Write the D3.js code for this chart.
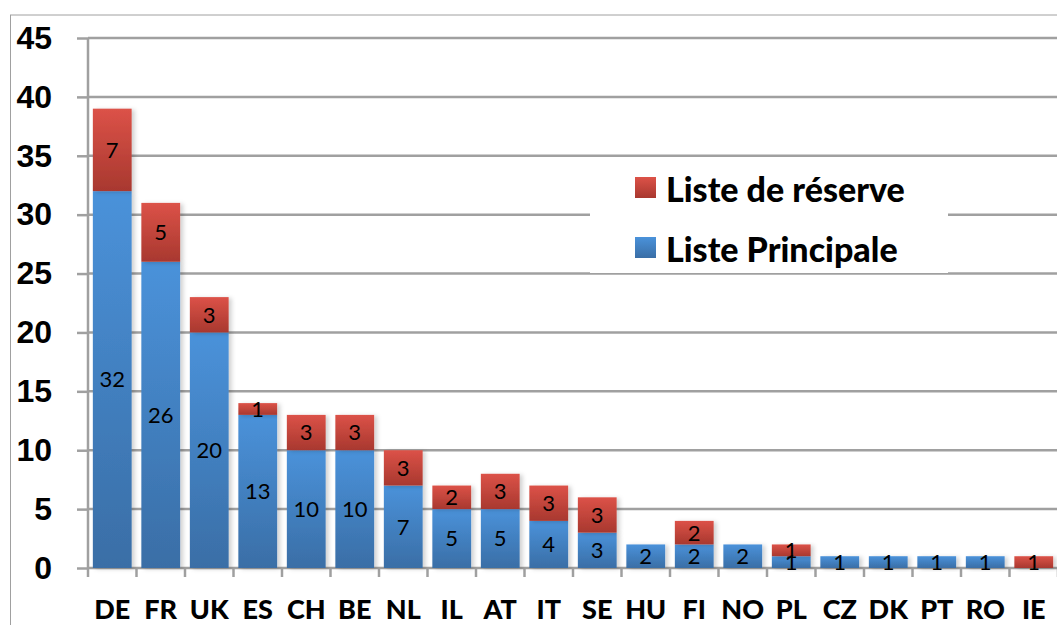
<!DOCTYPE html>
<html>
<head>
<meta charset="utf-8">
<script src="https://cdn.jsdelivr.net/npm/d3@7"></script>
<style>
  body { margin: 0; background: #fff; }
  svg { display: block; font-family: Lato, "Open Sans", sans-serif; }
</style>
</head>
<body>
<div id="chart"></div>
<script>
const countries = ["DE", "FR", "UK", "ES", "CH", "BE", "NL", "IL", "AT", "IT", "SE", "HU", "FI", "NO", "PL", "CZ", "DK", "PT", "RO", "IE"];
const principale = [32, 26, 20, 13, 10, 10, 7, 5, 5, 4, 3, 2, 2, 2, 1, 1, 1, 1, 1, 0];
const reserve = [7, 5, 3, 1, 3, 3, 3, 2, 3, 3, 3, 0, 2, 0, 1, 0, 0, 0, 0, 1];
const yTicks = [0, 5, 10, 15, 20, 25, 30, 35, 40, 45];

const width = 1057, height = 625;
const plotLeft = 88, plotRight = 1058, plotTop = 38, plotBottom = 568;

const svg = d3.select("#chart").append("svg")
    .attr("width", width)
    .attr("height", height);

const defs = svg.append("defs");
function grad(id, c1, c2) {
    const g = defs.append("linearGradient").attr("id", id)
        .attr("x1", 0).attr("y1", 0).attr("x2", 0).attr("y2", 1);
    g.append("stop").attr("offset", "0%").attr("stop-color", c1);
    g.append("stop").attr("offset", "100%").attr("stop-color", c2);
}
grad("gBlue", "#4a92da", "#3a6ea6");
grad("gRed", "#dc5248", "#a8382f");

const shadow = defs.append("filter").attr("id", "shadow")
    .attr("x", "-20%").attr("y", "-20%").attr("width", "150%").attr("height", "150%");
shadow.append("feDropShadow").attr("dx", 3).attr("dy", 1)
    .attr("stdDeviation", 2).attr("flood-color", "#000").attr("flood-opacity", 0.18);

// outer frame
svg.append("line").attr("x1", 10).attr("x2", width).attr("y1", 15).attr("y2", 15)
    .attr("stroke", "#a0a0a0").attr("stroke-width", 1);
svg.append("line").attr("x1", 10.5).attr("x2", 10.5).attr("y1", 15).attr("y2", height)
    .attr("stroke", "#a0a0a0").attr("stroke-width", 1);

const x = d3.scaleBand().domain(countries).range([plotLeft, plotRight]).paddingInner(0.2).paddingOuter(0.1);
const y = d3.scaleLinear().domain([0, 45]).range([plotBottom, plotTop]);

// y ticks
const yAxis = svg.append("g").attr("transform", `translate(${plotLeft},0)`)
    .call(d3.axisLeft(y).tickValues(yTicks).tickSize(11).tickPadding(25)
        .tickFormat(d3.format("d")));
yAxis.select(".domain").remove();
yAxis.selectAll(".tick line").attr("stroke", "#a0a0a0").attr("stroke-width", 2.5);
yAxis.selectAll(".tick text").attr("font-size", 32).attr("font-weight", 900).attr("fill", "#000");

// gridlines
svg.append("g").selectAll("line").data(yTicks).join("line")
    .attr("x1", plotLeft).attr("x2", width)
    .attr("y1", d => y(d)).attr("y2", d => y(d))
    .attr("stroke", "#a0a0a0").attr("stroke-width", 2.5);

// y axis line
svg.append("line").attr("x1", plotLeft).attr("x2", plotLeft).attr("y1", plotTop).attr("y2", plotBottom)
    .attr("stroke", "#a0a0a0").attr("stroke-width", 2.5);

// x ticks at band boundaries
const step = x.step();
svg.append("g").selectAll("line").data(d3.range(countries.length + 1)).join("line")
    .attr("x1", i => plotLeft + i * step).attr("x2", i => plotLeft + i * step)
    .attr("y1", plotBottom).attr("y2", plotBottom + 9)
    .attr("stroke", "#a0a0a0").attr("stroke-width", 2.5);

// stacked bars
const rows = countries.map((c, i) => ({ c, p: principale[i], r: reserve[i] }));

const barG = svg.append("g");
rows.forEach(d => {
    if (d.p > 0) {
        barG.append("rect").attr("x", x(d.c)).attr("width", x.bandwidth())
            .attr("y", y(d.p)).attr("height", y(0) - y(d.p))
            .attr("fill", "url(#gBlue)").attr("filter", "url(#shadow)");
    }
    if (d.r > 0) {
        barG.append("rect").attr("x", x(d.c)).attr("width", x.bandwidth())
            .attr("y", y(d.p + d.r)).attr("height", y(d.p) - y(d.p + d.r))
            .attr("fill", "url(#gRed)").attr("filter", "url(#shadow)");
    }
});

// data labels
const labG = svg.append("g").attr("font-size", 22).attr("fill", "#000").attr("text-anchor", "middle");
rows.forEach(d => {
    if (d.p > 0) {
        labG.append("text").attr("x", x(d.c) + x.bandwidth() / 2)
            .attr("y", y(d.p / 2)).attr("dy", "0.36em").text(d.p);
    }
    if (d.r > 0) {
        labG.append("text").attr("x", x(d.c) + x.bandwidth() / 2)
            .attr("y", y(d.p + d.r / 2)).attr("dy", "0.36em").text(d.r);
    }
});

// x labels
svg.append("g").selectAll("text").data(countries).join("text")
    .attr("x", d => x(d) + x.bandwidth() / 2)
    .attr("y", 619)
    .attr("text-anchor", "middle")
    .attr("font-size", 27).attr("font-weight", 900)
    .text(d => d);

// legend
const legend = svg.append("g");
legend.append("rect").attr("x", 590).attr("y", 166).attr("width", 358).attr("height", 107)
    .attr("fill", "#fff");
const legItems = [
    { name: "Liste de réserve", fill: "url(#gRed)", yy: 177 },
    { name: "Liste Principale", fill: "url(#gBlue)", yy: 237 }
];
legItems.forEach(l => {
    legend.append("rect").attr("x", 635).attr("y", l.yy).attr("width", 21).attr("height", 21)
        .attr("fill", l.fill);
    legend.append("text").attr("x", 666).attr("y", l.yy + 25)
        .attr("font-size", 34).attr("font-weight", 900).text(l.name);
});
</script>
</body>
</html>
